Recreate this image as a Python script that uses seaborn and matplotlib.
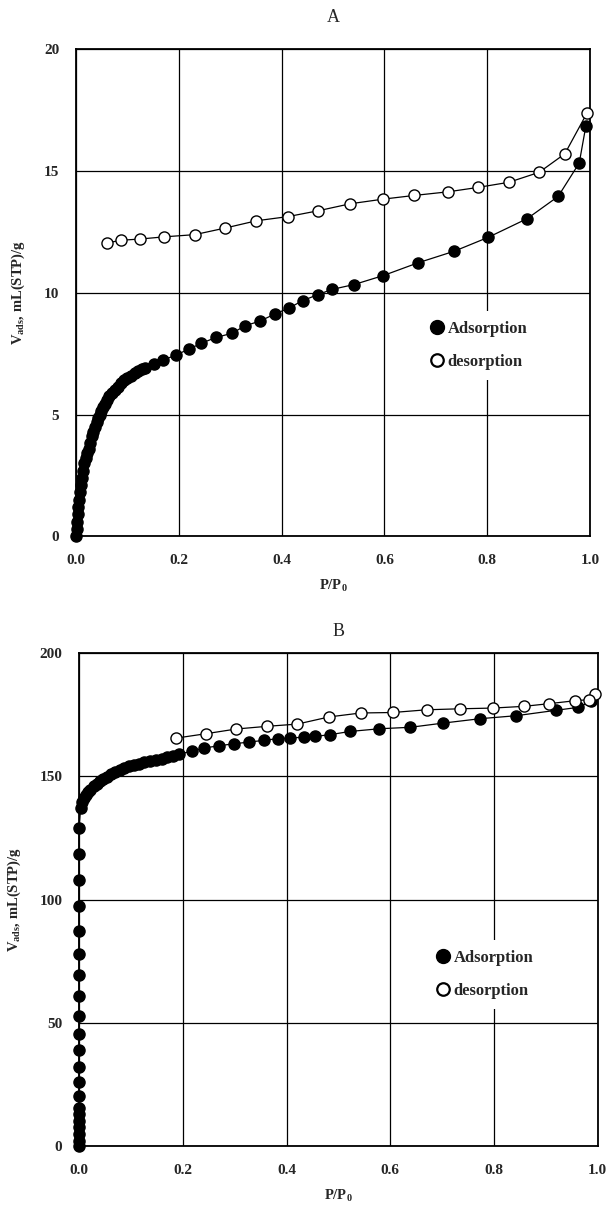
import matplotlib
matplotlib.use("Agg")
import matplotlib.pyplot as plt
from matplotlib.lines import Line2D
import seaborn as sns
import pandas as pd

sns.set_theme(style="white")
plt.rcParams['font.family'] = ['Liberation Serif', 'DejaVu Serif']
plt.rcParams['mathtext.fontset'] = 'custom'
plt.rcParams['mathtext.rm'] = 'Liberation Serif:bold'
plt.rcParams['mathtext.it'] = 'Liberation Serif:bold'
plt.rcParams['mathtext.bf'] = 'Liberation Serif:bold'

# ---------------- Data: panel A ----------------
a_ads_x = [0.000, 0.001, 0.002, 0.003, 0.004, 0.005, 0.007, 0.009, 0.011, 0.013,
           0.016, 0.019, 0.022, 0.025, 0.028, 0.031, 0.034, 0.037, 0.040, 0.043,
           0.046, 0.049, 0.052, 0.056, 0.060, 0.065, 0.070, 0.075, 0.081, 0.087,
           0.093, 0.100, 0.107, 0.114, 0.121, 0.128, 0.134, 0.151, 0.170, 0.195,
           0.220, 0.244, 0.273, 0.304, 0.329, 0.357, 0.387, 0.414, 0.441, 0.470,
           0.498, 0.541, 0.598, 0.665, 0.736, 0.802, 0.878, 0.938, 0.979, 0.992]
a_ads_y = [0.0, 0.3, 0.6, 0.9, 1.2, 1.5, 1.8, 2.1, 2.4, 2.7,
           3.0, 3.2, 3.4, 3.6, 3.85, 4.1, 4.3, 4.5, 4.7, 4.85,
           5.0, 5.15, 5.3, 5.45, 5.6, 5.75, 5.9, 6.0, 6.15, 6.3,
           6.4, 6.5, 6.6, 6.7, 6.8, 6.85, 6.9, 7.07, 7.24, 7.45,
           7.69, 7.93, 8.17, 8.34, 8.65, 8.83, 9.13, 9.37, 9.68, 9.92,
           10.14, 10.34, 10.71, 11.23, 11.71, 12.28, 13.05, 13.96, 15.33, 16.86]
a_des_x = [0.994, 0.951, 0.901, 0.842, 0.782, 0.724, 0.658, 0.598, 0.534, 0.471,
           0.412, 0.351, 0.290, 0.231, 0.172, 0.125, 0.088, 0.060]
a_des_y = [17.38, 15.71, 14.95, 14.54, 14.33, 14.15, 14.00, 13.85, 13.66, 13.37,
           13.13, 12.96, 12.66, 12.39, 12.30, 12.21, 12.16, 12.05]

# ---------------- Data: panel B ----------------
b_ads_x = [0.000, 0.000, 0.000, 0.000, 0.000, 0.000, 0.000, 0.000, 0.000, 0.000,
           0.000, 0.000, 0.000, 0.000, 0.000, 0.000, 0.000, 0.000, 0.000, 0.000,
           0.000, 0.003, 0.006, 0.010, 0.014, 0.018, 0.022, 0.028, 0.034, 0.040,
           0.047, 0.054, 0.062, 0.070, 0.078, 0.087, 0.096, 0.106, 0.116, 0.126,
           0.137, 0.148, 0.159, 0.170, 0.181, 0.193, 0.217, 0.241, 0.270, 0.298,
           0.328, 0.356, 0.384, 0.406, 0.433, 0.455, 0.484, 0.522, 0.579, 0.639,
           0.702, 0.774, 0.843, 0.920, 0.963, 0.987]
b_ads_y = [0.0, 2.0, 4.8, 7.5, 10.2, 12.9, 15.6, 20.2, 25.9, 32.0,
           38.8, 45.3, 52.7, 61.0, 69.4, 78.0, 87.3, 97.3, 108.1, 118.5,
           129.1, 137.2, 139.5, 141.0, 142.3, 143.5, 144.6, 146.0, 147.0, 148.0,
           149.0, 149.9, 150.8, 151.7, 152.5, 153.3, 154.0, 154.7, 155.2, 155.7,
           156.3, 156.8, 157.2, 157.7, 158.3, 159.1, 160.1, 161.5, 162.4, 163.2,
           163.9, 164.6, 165.3, 165.5, 165.9, 166.2, 166.9, 168.2, 169.3, 169.9,
           171.6, 173.4, 174.6, 176.8, 178.0, 180.4]
b_des_x = [0.995, 0.983, 0.957, 0.907, 0.858, 0.798, 0.734, 0.670, 0.605, 0.543,
           0.482, 0.421, 0.363, 0.303, 0.245, 0.187]
b_des_y = [183.4, 181.1, 180.7, 179.5, 178.4, 177.7, 177.4, 177.0, 175.9, 175.7,
           174.1, 171.2, 170.3, 169.2, 167.3, 165.5]

x_ticks = [0.0, 0.2, 0.4, 0.6, 0.8, 1.0]
x_ticklabels = ["0.0", "0.2", "0.4", "0.6", "0.8", "1.0"]
a_yticks = [0, 5, 10, 15, 20]
b_yticks = [0, 50, 100, 150, 200]
series_labels = ["Adsorption", "desorption"]
panel_titles = ["A", "B"]

fig = plt.figure(figsize=(6.13, 12.05), dpi=100)
axA = fig.add_axes([0.124, 0.555, 0.8385, 0.404])
axB = fig.add_axes([0.129, 0.049, 0.846, 0.409])

ms = 8


def draw(ax, ads_x, ads_y, des_x, des_y, yticks, title, title_pad, leg_anchor):
    dfa = pd.DataFrame({"x": ads_x, "y": ads_y})
    dfd = pd.DataFrame({"x": des_x, "y": des_y})
    sns.lineplot(data=dfa, x="x", y="y", ax=ax, sort=False, estimator=None,
                 color="black", linewidth=0.9, marker="o", markersize=ms,
                 markerfacecolor="black", markeredgecolor="black",
                 markeredgewidth=1.0, clip_on=False, zorder=4)
    sns.lineplot(data=dfd, x="x", y="y", ax=ax, sort=False, estimator=None,
                 color="black", linewidth=0.9, marker="o", markersize=ms,
                 markerfacecolor="white", markeredgecolor="black",
                 markeredgewidth=1.0, clip_on=False, zorder=5)
    ax.set_xlim(0, 1)
    ax.set_ylim(yticks[0], yticks[-1])
    ax.set_xticks(x_ticks)
    ax.set_xticklabels(x_ticklabels)
    ax.set_yticks(yticks)
    ax.set_yticklabels([str(t) for t in yticks])
    ax.grid(True, color="black", linewidth=0.9)
    ax.set_axisbelow(True)
    for sp in ax.spines.values():
        sp.set_color("black")
        sp.set_linewidth(1.3)
        sp.set_visible(True)
    ax.tick_params(axis="both", length=0, labelsize=11)
    ax.tick_params(axis="x", pad=13)
    ax.tick_params(axis="y", pad=12)
    for lab in ax.get_xticklabels() + ax.get_yticklabels():
        lab.set_fontweight("bold")
    ax.set_xlabel("P/P$_0$", fontsize=10.5, fontweight="bold", labelpad=8)
    ax.set_ylabel("V$_{ads}$, mL(STP)/g", fontsize=10.5, fontweight="bold",
                  labelpad=12)
    ax.set_title(title, fontsize=13, pad=title_pad)
    handles = [
        Line2D([], [], linestyle="none", marker="o", markersize=10,
               markerfacecolor="black", markeredgecolor="black"),
        Line2D([], [], linestyle="none", marker="o", markersize=9,
               markerfacecolor="white", markeredgecolor="black",
               markeredgewidth=1.6),
    ]
    leg = ax.legend(handles, series_labels, loc="upper left",
                    bbox_to_anchor=leg_anchor, frameon=True,
                    prop={"family": "Liberation Serif", "weight": "bold",
                          "size": 12},
                    handlelength=0.7, handletextpad=0.3, labelspacing=1.0,
                    borderpad=0.6, fancybox=False)
    leg.get_frame().set_facecolor("white")
    leg.get_frame().set_edgecolor("none")
    leg.get_frame().set_alpha(1.0)


draw(axA, a_ads_x, a_ads_y, a_des_x, a_des_y, a_yticks, panel_titles[0], 20,
     (0.655, 0.48))
draw(axB, b_ads_x, b_ads_y, b_des_x, b_des_y, b_yticks, panel_titles[1], 12,
     (0.655, 0.435))

fig.savefig("out.png", dpi=100)
